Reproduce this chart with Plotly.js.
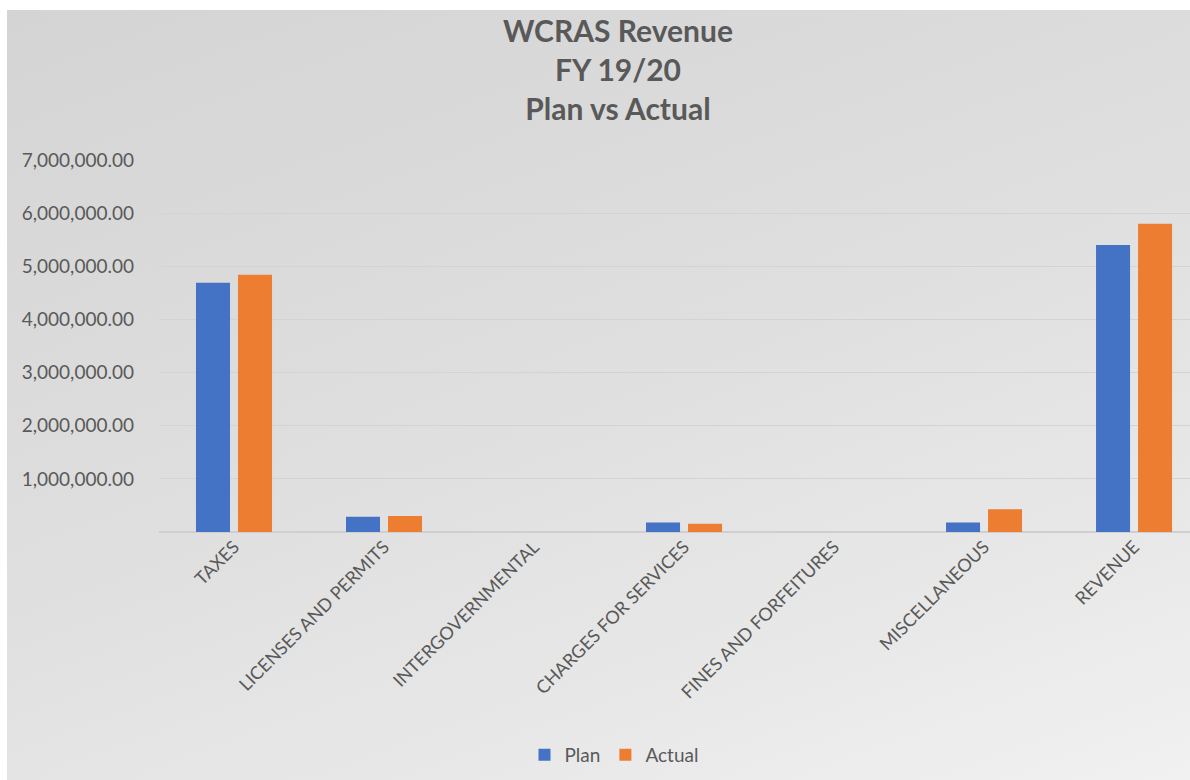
<!DOCTYPE html>
<html>
<head>
<meta charset="utf-8">
<script src="https://cdn.plot.ly/plotly-3.0.1.min.js"></script>
<style>
  html, body { margin: 0; padding: 0; background: #ffffff; }
  #wrap { position: relative; width: 1190px; height: 780px; overflow: hidden; background: #ffffff; }
  #bg { position: absolute; left: 7px; top: 10px; width: 1183px; height: 770px;
        background: linear-gradient(160deg, #d4d4d4 0%, #dedede 45%, #e9e9e9 80%, #f1f1f1 100%); }
  #chart { position: absolute; left: 0; top: 0; width: 1190px; height: 780px; }
</style>
</head>
<body>
<div id="wrap">
  <div id="bg"></div>
  <div id="chart"></div>
</div>
<script>
const categories = ["TAXES", "LICENSES AND PERMITS", "INTERGOVERNMENTAL", "CHARGES FOR SERVICES",
                    "FINES AND FORFEITURES", "MISCELLANEOUS", "REVENUE"];
const planValues   = [4690000, 285000, 0, 180000, 0, 180000, 5400000];
const actualValues = [4840000, 300000, 0, 157000, 0, 430000, 5800000];
const yTickVals = [1000000, 2000000, 3000000, 4000000, 5000000, 6000000, 7000000];
const yTickText = ["1,000,000.00", "2,000,000.00", "3,000,000.00", "4,000,000.00",
                   "5,000,000.00", "6,000,000.00", "7,000,000.00"];
const titleLines = ["WCRAS Revenue", "FY 19/20", "Plan vs Actual"];

const fontFam = "Lato, 'Open Sans', sans-serif";
const txtCol = "#595959";

const traces = [
  { type: "bar", name: "Plan", x: categories, y: planValues,
    marker: { color: "#4472c4", line: { width: 0 } }, hoverinfo: "x+y" },
  { type: "bar", name: "Actual", x: categories, y: actualValues,
    marker: { color: "#ed7d31", line: { width: 0 } }, hoverinfo: "x+y" }
];

const layout = {
  width: 1190, height: 780,
  paper_bgcolor: "rgba(0,0,0,0)", plot_bgcolor: "rgba(0,0,0,0)",
  margin: { l: 159, r: 0, t: 160, b: 248, autoexpand: false },
  barmode: "group", bargap: 0.44, bargroupgap: 0.19,
  annotations: [{
    text: "<b>" + titleLines.join("<br>") + "</b>",
    xref: "paper", yref: "paper", x: (618 - 159) / 1031, y: (532 - 10) / 372,
    xanchor: "center", yanchor: "top", showarrow: false, align: "center",
    font: { family: fontFam, size: 30, color: txtCol }
  }],
  xaxis: {
    type: "category", range: [-0.5, 6.373], tickangle: -45,
    showgrid: false, zeroline: false, showline: false, ticks: "",
    tickfont: { family: fontFam, size: 18, color: txtCol },
    fixedrange: true
  },
  yaxis: {
    range: [0, 7000000], tickmode: "array", tickvals: yTickVals, ticktext: yTickText,
    showgrid: true, gridcolor: "#d3d3d3", gridwidth: 1,
    zeroline: true, zerolinecolor: "#cfcfcf", zerolinewidth: 2,
    showline: false, ticks: "", ticklabelstandoff: 24,
    tickfont: { family: fontFam, size: 19, color: txtCol },
    fixedrange: true
  },
  showlegend: true,
  legend: {
    orientation: "h", x: (614 - 159) / 1031, xanchor: "center", y: -(755 - 532) / 372, yanchor: "middle",
    font: { family: fontFam, size: 19, color: txtCol },
    bgcolor: "rgba(0,0,0,0)", itemwidth: 30, tracegroupgap: 0
  }
};

Plotly.newPlot("chart", traces, layout, { displayModeBar: false, staticPlot: true });
</script>
</body>
</html>
